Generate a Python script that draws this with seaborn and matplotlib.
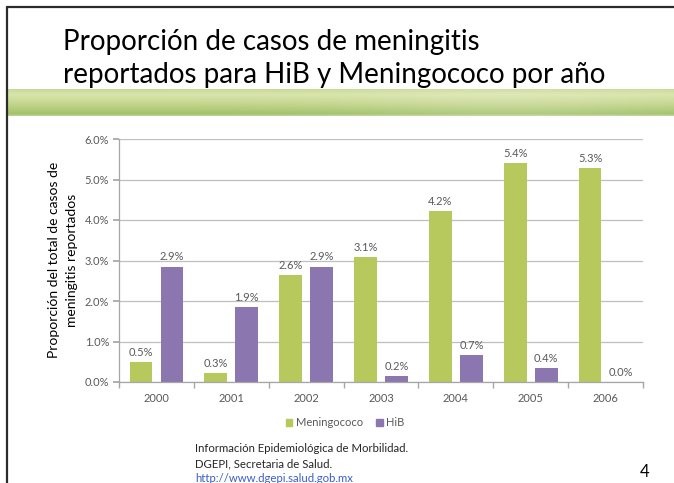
import numpy as np
import pandas as pd
import seaborn as sns
import matplotlib.pyplot as plt
from matplotlib.lines import Line2D
from matplotlib.patches import Patch

# datos (porcentaje del total de casos de meningitis)
years = ['2000', '2001', '2002', '2003', '2004', '2005', '2006']
meningococo = [0.49, 0.23, 2.63, 3.09, 4.21, 5.41, 5.28]
hib = [2.85, 1.86, 2.85, 0.14, 0.66, 0.35, 0.0]
meningococo_labels = ['0.5%', '0.3%', '2.6%', '3.1%', '4.2%', '5.4%', '5.3%']
hib_labels = ['2.9%', '1.9%', '2.9%', '0.2%', '0.7%', '0.4%', '0.0%']
series = ['Meningococo', 'HiB']
yticks = [0, 1, 2, 3, 4, 5, 6]

green = '#B7C85D'
purple = '#8B76B0'
gray_txt = '#595959'

sns.set_theme(style='white')
plt.rcParams['font.family'] = ['Lato', 'DejaVu Sans']

W, H = 674, 483
fig = plt.figure(figsize=(W / 100, H / 100), dpi=100)

# marco de la diapositiva
fig.add_artist(Line2D([7 / W, 1], [1 - 7 / H, 1 - 7 / H], color='#2b2b2b', lw=1.6))
fig.add_artist(Line2D([7 / W, 7 / W], [0, 1 - 7 / H], color='#2b2b2b', lw=1.6))

# título
fig.text(63 / W, 1 - 50 / H, 'Proporción de casos de meningitis', fontsize=20, color='black', va='baseline')
fig.text(63 / W, 1 - 83 / H, 'reportados para HiB y Meningococo por año', fontsize=20, color='black', va='baseline')

# banda verde con degradado
band = fig.add_axes([8 / W, 1 - 116 / H, 1 - 8 / W, 27 / H])
stops = [0.0, 0.2, 0.5, 0.8, 0.93, 1.0]
cols = np.array([[200, 218, 150], [216, 228, 172], [200, 216, 145],
                 [174, 201, 120], [162, 193, 106], [192, 212, 152]]) / 255
t = np.linspace(0, 1, 40)
vert = np.stack([np.interp(t, stops, cols[:, i]) for i in range(3)], axis=1)
xs = np.linspace(0, 1, 300)
light = 0.15 * np.exp(-((xs - 0.75) / 0.22) ** 2)
img = vert[:, None, :] * (1 - light[None, :, None]) + light[None, :, None]
band.imshow(img, aspect='auto', interpolation='bilinear')
band.axis('off')

# gráfico de barras
ax = fig.add_axes([119 / W, 1 - 382 / H, (643 - 119) / W, (382 - 139) / H])
df = pd.DataFrame({
    'Año': years * 2,
    'Proporción': meningococo + hib,
    'Serie': [series[0]] * len(years) + [series[1]] * len(years),
})
sns.barplot(data=df, x='Año', y='Proporción', hue='Serie', hue_order=series,
            palette=[green, purple], saturation=1, width=0.83, gap=0.27,
            errorbar=None, linewidth=0, legend=False, ax=ax)

ax.bar_label(ax.containers[0], labels=meningococo_labels, padding=3, fontsize=8, color=gray_txt)
ax.bar_label(ax.containers[1], labels=hib_labels, padding=3, fontsize=8, color=gray_txt)

ax.set_xlim(-0.5, len(years) - 0.5)
ax.set_ylim(0, 6)
ax.set_yticks(yticks)
ax.set_yticklabels([f'{v:.1f}%' for v in yticks])
ax.yaxis.grid(True, color='#BFBFBF', lw=0.9)
ax.set_axisbelow(True)
ax.set_xlabel('')
ax.set_ylabel('')
for s in ['top', 'right']:
    ax.spines[s].set_visible(False)
for s in ['left', 'bottom']:
    ax.spines[s].set_color('#A6A6A6')
    ax.spines[s].set_linewidth(0.9)
ax.tick_params(axis='y', labelsize=8, labelcolor=gray_txt, length=4, color='#A6A6A6', left=True, pad=3)
ax.tick_params(axis='x', which='major', labelsize=8, labelcolor=gray_txt, length=0, pad=8)
ax.set_xticks(np.arange(-0.5, len(years), 1), minor=True)
ax.tick_params(axis='x', which='minor', length=4, color='#A6A6A6', bottom=True)

fig.text(63 / W, 1 - 260 / H, 'Proporción del total de casos de\nmeningitis reportados',
         rotation=90, ha='center', va='center', multialignment='center',
         fontsize=10, color='black', linespacing=1.6)

handles = [Patch(color=green), Patch(color=purple)]
fig.legend(handles, series, loc='center', bbox_to_anchor=(345 / W, 1 - 423 / H), ncol=2,
           frameon=False, fontsize=8, labelcolor=gray_txt, handlelength=0.6, handleheight=0.6,
           handletextpad=0.3, columnspacing=1.2)

# fuente
fig.text(195 / W, 1 - 449 / H, 'Información Epidemiológica de Morbilidad.', fontsize=8.2, color='#262626', va='center')
fig.text(195 / W, 1 - 464 / H, 'DGEPI, Secretaria de Salud.', fontsize=8.2, color='#262626', va='center')
fig.text(195 / W, 1 - 478 / H, 'http://www.dgepi.salud.gob.mx', fontsize=8.2, color='#3A5FCD', va='center')
fig.text(645 / W, 1 - 472 / H, '4', fontsize=12, color='black', ha='center', va='center')

fig.savefig('out.png', dpi=100)
